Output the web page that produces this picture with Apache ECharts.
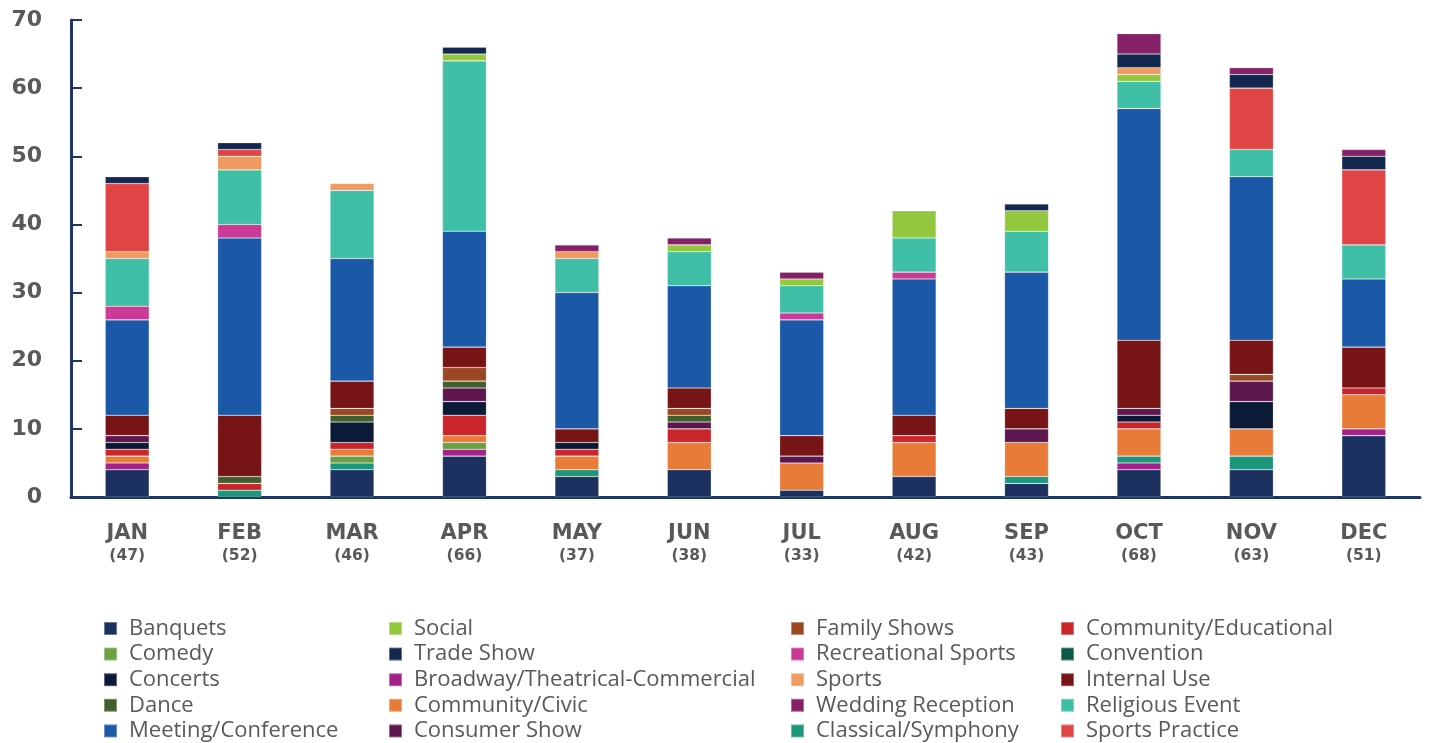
<!DOCTYPE html>
<html>
<head>
<meta charset="utf-8">
<script src="https://cdn.jsdelivr.net/npm/echarts@6/dist/echarts.min.js"></script>
<style>
  html, body { margin: 0; padding: 0; background: #ffffff; }
  #chart { width: 1429px; height: 743px; }
</style>
</head>
<body>
<div id="chart"></div>
<script>
// Monthly event counts by event type
const months = ['JAN', 'FEB', 'MAR', 'APR', 'MAY', 'JUN', 'JUL', 'AUG', 'SEP', 'OCT', 'NOV', 'DEC'];
const yTicks = [0, 10, 20, 30, 40, 50, 60, 70];

const banquets        = [4, 0, 4, 6, 3, 4, 1, 3, 2, 4, 4, 9];
const broadway        = [1, 0, 0, 1, 0, 0, 0, 0, 0, 1, 0, 1];
const classical       = [0, 1, 1, 0, 1, 0, 0, 0, 1, 1, 2, 0];
const comedy          = [0, 0, 1, 1, 0, 0, 0, 0, 0, 0, 0, 0];
const communityCivic  = [1, 0, 1, 1, 2, 4, 4, 5, 5, 4, 4, 5];
const communityEdu    = [1, 1, 1, 3, 1, 2, 0, 1, 0, 1, 0, 1];
const concerts        = [1, 0, 3, 2, 1, 0, 0, 0, 0, 1, 4, 0];
const consumerShow    = [1, 0, 0, 2, 0, 1, 1, 0, 2, 1, 3, 0];
const convention      = [0, 0, 0, 0, 0, 0, 0, 0, 0, 0, 0, 0];
const dance           = [0, 1, 1, 1, 0, 1, 0, 0, 0, 0, 0, 0];
const familyShows     = [0, 0, 1, 2, 0, 1, 0, 0, 0, 0, 1, 0];
const internalUse     = [3, 9, 4, 3, 2, 3, 3, 3, 3, 10, 5, 6];
const meeting         = [14, 26, 18, 17, 20, 15, 17, 20, 20, 34, 24, 10];
const recreational    = [2, 2, 0, 0, 0, 0, 1, 1, 0, 0, 0, 0];
const religious       = [7, 8, 10, 25, 5, 5, 4, 5, 6, 4, 4, 5];
const social          = [0, 0, 0, 1, 0, 1, 1, 4, 3, 1, 0, 0];
const sports          = [1, 2, 1, 0, 1, 0, 0, 0, 0, 1, 0, 0];
const sportsPractice  = [10, 1, 0, 0, 0, 0, 0, 0, 0, 0, 9, 11];
const tradeShow       = [1, 1, 0, 1, 0, 0, 0, 0, 1, 2, 2, 2];
const wedding         = [0, 0, 0, 0, 1, 1, 1, 0, 0, 3, 1, 1];

// Stacked bottom-to-top in alphabetical order
const seriesDefs = [
  { name: 'Banquets', data: banquets, color: '#1c3160' },
  { name: 'Broadway/Theatrical-Commercial', data: broadway, color: '#a2228a' },
  { name: 'Classical/Symphony', data: classical, color: '#1d967b' },
  { name: 'Comedy', data: comedy, color: '#69a042' },
  { name: 'Community/Civic', data: communityCivic, color: '#e97b38' },
  { name: 'Community/Educational', data: communityEdu, color: '#c9252a' },
  { name: 'Concerts', data: concerts, color: '#0b1b37' },
  { name: 'Consumer Show', data: consumerShow, color: '#5e164f' },
  { name: 'Convention', data: convention, color: '#0b5a48' },
  { name: 'Dance', data: dance, color: '#415f2d' },
  { name: 'Family Shows', data: familyShows, color: '#9a4724' },
  { name: 'Internal Use', data: internalUse, color: '#761416' },
  { name: 'Meeting/Conference', data: meeting, color: '#1b58a8' },
  { name: 'Recreational Sports', data: recreational, color: '#c93b96' },
  { name: 'Religious Event', data: religious, color: '#3fbfa6' },
  { name: 'Social', data: social, color: '#93c83e' },
  { name: 'Sports', data: sports, color: '#f09a5f' },
  { name: 'Sports Practice', data: sportsPractice, color: '#e04545' },
  { name: 'Trade Show', data: tradeShow, color: '#13284f' },
  { name: 'Wedding Reception', data: wedding, color: '#842168' }
];

// Legend columns
const legendCols = [
  ['Banquets', 'Comedy', 'Concerts', 'Dance', 'Meeting/Conference'],
  ['Social', 'Trade Show', 'Broadway/Theatrical-Commercial', 'Community/Civic', 'Consumer Show'],
  ['Family Shows', 'Recreational Sports', 'Sports', 'Wedding Reception', 'Classical/Symphony'],
  ['Community/Educational', 'Convention', 'Internal Use', 'Religious Event', 'Sports Practice']
];
const legendLeft = [103, 388, 790, 1060];

const totals = months.map((_, i) => seriesDefs.reduce((s, d) => s + d.data[i], 0));

const gray = '#595959';
const axisBlue = '#1f3563';

const chart = echarts.init(document.getElementById('chart'), null, { renderer: 'canvas' });

chart.setOption({
  animation: false,
  backgroundColor: '#ffffff',
  grid: { left: 71, right: 9, top: 20, bottom: 246, containLabel: false },
  legend: legendCols.map((col, k) => ({
    orient: 'vertical',
    left: legendLeft[k],
    top: 617.5,
    height: 125,
    padding: 0,
    itemWidth: 13,
    itemHeight: 13,
    itemGap: 3.6,
    icon: 'rect',
    selectedMode: false,
    data: col,
    textStyle: {
      fontFamily: 'Open Sans',
      fontSize: 22,
      color: gray,
      padding: [0, 0, 0, 7]
    }
  })),
  xAxis: {
    type: 'category',
    data: months,
    axisLine: { show: true, lineStyle: { color: axisBlue, width: 3 } },
    axisTick: { show: false },
    axisLabel: {
      margin: 26,
      interval: 0,
      formatter: (v, i) => '{m|' + v + '}\n{c|(' + totals[i] + ')}',
      rich: {
        m: { fontFamily: 'DejaVu Sans', fontWeight: 'bold', fontSize: 21, color: gray, lineHeight: 22 },
        c: { fontFamily: 'DejaVu Sans', fontWeight: 'bold', fontSize: 15.5, color: gray, lineHeight: 21 }
      }
    }
  },
  yAxis: {
    type: 'value',
    min: yTicks[0],
    max: yTicks[yTicks.length - 1],
    interval: yTicks[1] - yTicks[0],
    axisLine: { show: true, lineStyle: { color: axisBlue, width: 3 } },
    axisTick: { show: true, inside: true, length: 11, lineStyle: { color: axisBlue, width: 2 } },
    splitLine: { show: false },
    axisLabel: {
      margin: 29,
      fontFamily: 'DejaVu Sans',
      fontWeight: 'bold',
      fontSize: 22,
      color: gray
    }
  },
  series: seriesDefs.map(d => ({
    name: d.name,
    type: 'bar',
    stack: 'events',
    barWidth: 44,
    itemStyle: { color: d.color, borderColor: 'rgba(255,255,255,0.35)', borderWidth: 0.6 },
    emphasis: { disabled: true },
    data: d.data.map(v => (v === 0 ? null : v))
  }))
});
</script>
</body>
</html>
